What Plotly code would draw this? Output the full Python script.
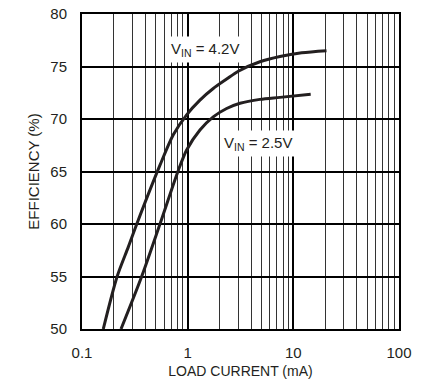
import math
import plotly.graph_objects as go

# Data (load current in mA, efficiency in %)
x_42 = [0.159, 0.215, 0.274, 0.33, 0.547, 0.731, 0.978, 1.307, 1.746, 2.337, 3.01, 4.83, 7.47, 12.0, 20.6]
y_42 = [50.0, 55.0, 57.8, 60.0, 65.6, 68.5, 70.4, 71.8, 72.9, 73.8, 74.55, 75.45, 75.95, 76.3, 76.5]
x_25 = [0.234, 0.367, 0.547, 0.815, 0.978, 1.307, 1.746, 2.337, 3.13, 4.83, 7.47, 14.6]
y_25 = [50.0, 55.0, 60.0, 65.1, 67.05, 68.95, 70.2, 71.0, 71.5, 71.87, 72.06, 72.35]

x_ticks = [0.1, 1, 10, 100]
x_tick_labels = ["0.1", "1", "10", "100"]
x_minor = [m * d for d in (0.1, 1, 10) for m in range(2, 10)]
y_ticks = [50, 55, 60, 65, 70, 75, 80]

label_42 = ("V<sub>IN</sub> = 4.2V", 0.633, 76.6)
label_25 = ("V<sub>IN</sub> = 2.5V", 2.02, 67.7)

ink = "#231f20"
font = "Liberation Sans Narrow, Arial Narrow, Liberation Sans, Arial, sans-serif"

fig = go.Figure()
for xs, ys in ((x_42, y_42), (x_25, y_25)):
    fig.add_trace(go.Scatter(x=xs, y=ys, mode="lines",
                             line=dict(color=ink, width=3, shape="spline", smoothing=0.8),
                             showlegend=False, hoverinfo="skip"))

annotations = []
for text, lx, ly in (label_42, label_25):
    annotations.append(dict(x=math.log10(lx), y=ly, xref="x", yref="y",
                            xanchor="left", yanchor="middle", text=text, showarrow=False,
                            bgcolor="white", font=dict(size=15, family=font, color=ink),
                            borderpad=3))

fig.update_layout(
    width=427, height=391,
    margin=dict(l=82, r=28, t=14, b=62),
    paper_bgcolor="white", plot_bgcolor="white",
    font=dict(family=font, size=15, color=ink),
    xaxis=dict(
        type="log", range=[-1, 2], automargin=False,
        tickvals=x_ticks, ticktext=x_tick_labels,
        tickfont=dict(size=15, family=font, color=ink),
        showgrid=True, gridcolor="#000000", gridwidth=1.5,
        minor=dict(tickvals=x_minor, showgrid=True, gridcolor="#333333", gridwidth=1, ticks=""),
        showline=True, linecolor="#000000", linewidth=2, mirror=True,
        ticks="", ticklabelstandoff=9,
        title=dict(text="LOAD CURRENT (mA)", font=dict(size=14, family=font, color=ink), standoff=6),
        zeroline=False,
    ),
    yaxis=dict(
        range=[50, 80], tickvals=y_ticks, automargin=False,
        tickfont=dict(size=15, family=font, color=ink),
        showgrid=True, gridcolor="#000000", gridwidth=2,
        showline=True, linecolor="#000000", linewidth=2, mirror=True,
        ticks="", ticklabelstandoff=10,
        title=dict(text="EFFICIENCY (%)", font=dict(size=15, family=font, color=ink), standoff=7),
        zeroline=False,
    ),
    annotations=annotations,
)

fig.write_html("out.html", config={"displayModeBar": False},
               post_script="document.body.style.margin='0';")
